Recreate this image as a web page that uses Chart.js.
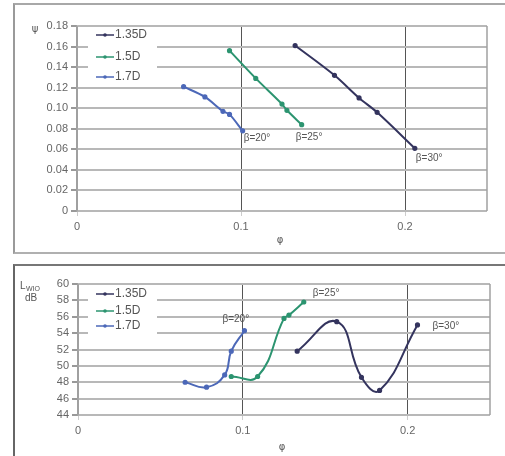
<!DOCTYPE html>
<html>
<head>
<meta charset="utf-8">
<script src="https://cdn.jsdelivr.net/npm/chart.js@4"></script>
<style>
  html, body { margin: 0; background: #fff; overflow: hidden; }
  body { width: 505px; height: 456px; position: relative; font-family: "Liberation Sans", Arial, sans-serif; }
  .panel { position: absolute; left: 13px; width: 490px; border-left: 2px solid #9a9a9a; border-right: 0; }
  #p1 { top: 3px; height: 247px; border-top: 2px solid #a8a8a8; border-bottom: 2px solid #b0b0b0; }
  #p2 { top: 264px; height: 192px; border-top: 2px solid #777; border-left-color: #666; }
  canvas { position: absolute; left: 0; }
  #top { top: 0; }
  #bottom { top: 258px; }
</style>
</head>
<body>
<div class="panel" id="p1"></div>
<div class="panel" id="p2"></div>
<canvas id="top" width="505" height="256"></canvas>
<canvas id="bottom" width="505" height="198"></canvas>
<script>
// series names and colours
let seriesNames = ['1.35D', '1.5D', '1.7D'];
let seriesColors = ['#34345e', '#2c9470', '#4c68b8'];

// phi (flow coefficient) for each series
let phi135 = [0.133, 0.157, 0.172, 0.183, 0.206];
let phi15 = [0.093, 0.109, 0.125, 0.128, 0.137];
let phi17 = [0.065, 0.078, 0.089, 0.093, 0.101];

// psi (pressure coefficient), top chart
let psi135 = [0.161, 0.132, 0.110, 0.096, 0.061];
let psi15 = [0.156, 0.129, 0.104, 0.098, 0.084];
let psi17 = [0.121, 0.111, 0.097, 0.094, 0.078];

// noise level dB, bottom chart
let L135 = [51.8, 55.4, 48.6, 47.0, 55.0];
let L15 = [48.7, 48.7, 55.8, 56.2, 57.8];
let L17 = [48.0, 47.4, 48.9, 51.8, 54.3];

// axis ticks
let xTicks = [0, 0.1, 0.2];
let betaLabels = ['β=30°', 'β=25°', 'β=20°'];

function pts(xs, ys) {
  return xs.map((x, i) => ({ x: x, y: ys[i] }));
}

function makeSets(ys, tension) {
  let xs = [phi135, phi15, phi17];
  return ys.map((y, i) => ({
    label: seriesNames[i],
    data: pts(xs[i], y),
    showLine: true,
    borderColor: seriesColors[i],
    backgroundColor: seriesColors[i],
    borderWidth: 2,
    pointRadius: 1.6,
    pointHoverRadius: 1.6,
    tension: tension
  }));
}

// draws frame, legend box, axis titles and beta labels
function extrasPlugin(cfg) {
  return {
    id: 'extras',
    beforeDatasetsDraw(chart) {
      let ctx = chart.ctx, ca = chart.chartArea;
      ctx.save();
      ctx.strokeStyle = '#a0a0a0';
      ctx.lineWidth = 1.5;
      ctx.beginPath();
      ctx.moveTo(ca.right, ca.top);
      ctx.lineTo(ca.right, ca.bottom);
      ctx.stroke();
      // legend
      let lg = cfg.legend;
      ctx.fillStyle = '#fff';
      ctx.fillRect(ca.left + lg.x, ca.top + lg.y, lg.w, lg.h);
      ctx.font = '12px "Liberation Sans", Arial';
      ctx.textBaseline = 'middle';
      seriesNames.forEach((n, i) => {
        let y = ca.top + lg.rows[i];
        let x0 = ca.left + lg.x + 8;
        ctx.strokeStyle = seriesColors[i];
        ctx.lineWidth = 1.5;
        ctx.beginPath();
        ctx.moveTo(x0, y);
        ctx.lineTo(x0 + 18, y);
        ctx.stroke();
        ctx.fillStyle = seriesColors[i];
        ctx.beginPath();
        ctx.arc(x0 + 9, y, 1.8, 0, Math.PI * 2);
        ctx.fill();
        ctx.fillStyle = '#555';
        ctx.fillText(n, x0 + 19, y);
      });
      ctx.restore();
    },
    afterDraw(chart) {
      let ctx = chart.ctx, ca = chart.chartArea;
      ctx.save();
      ctx.fillStyle = '#555';
      ctx.textBaseline = 'middle';
      ctx.textAlign = 'left';
      ctx.font = '10px "Liberation Sans", Arial';
      cfg.beta.forEach((b, i) => {
        let meta = chart.getDatasetMeta(i);
        let p = meta.data[meta.data.length - 1];
        ctx.fillText(betaLabels[i], p.x + b.dx, p.y + b.dy);
      });
      // x title
      ctx.textAlign = 'center';
      ctx.font = '10px "DejaVu Sans", sans-serif';
      ctx.fillText('φ', (ca.left + ca.right) / 2 - 2, ca.bottom + cfg.xTitleDy);
      // y title
      cfg.yTitle(ctx, ca);
      ctx.restore();
    }
  };
}

function scalesFor(ymin, ymax, ystep, yWidth, xHeight) {
  return {
    x: {
      type: 'linear', min: 0, max: 0.25,
      afterBuildTicks: s => { s.ticks = xTicks.map(v => ({ value: v })); },
      afterFit: s => { s.height = xHeight; },
      grid: { color: c => c.tick && c.tick.value === 0 ? '#a0a0a0' : '#555', lineWidth: 1, tickLength: 5, tickColor: '#ccc' },
      border: { display: false },
      ticks: { color: '#666', font: { size: 11, family: '"Liberation Sans", Arial' }, padding: 4, maxRotation: 0 }
    },
    y: {
      min: ymin, max: ymax,
      afterFit: s => { s.width = yWidth; },
      grid: { color: '#b8b8b8', lineWidth: 2, tickLength: 6, tickColor: '#999' },
      border: { display: true, color: '#a0a0a0', width: 1.5 },
      ticks: { stepSize: ystep, color: '#666', font: { size: 11, family: '"Liberation Sans", Arial' }, padding: 3 }
    }
  };
}

let common = {
  responsive: false,
  animation: false,
  devicePixelRatio: 1,
  plugins: { legend: { display: false }, tooltip: { enabled: false } }
};

new Chart(document.getElementById('top'), {
  type: 'scatter',
  data: { datasets: makeSets([psi135, psi15, psi17], 0.3) },
  options: Object.assign({}, common, {
    layout: { padding: { top: 26, right: 18, left: 0, bottom: 0 } },
    scales: scalesFor(0, 0.18, 0.02, 77, 45)
  }),
  plugins: [extrasPlugin({
    legend: { x: 11, y: 1, w: 69, h: 57, rows: [9, 31, 51] },
    beta: [{ dx: 1, dy: 10 }, { dx: -6, dy: 13 }, { dx: 1, dy: 7 }],
    xTitleDy: 29,
    yTitle: (ctx, ca) => {
      ctx.font = '10px "DejaVu Sans", sans-serif';
      ctx.fillText('ψ', ca.left - 42, ca.top + 3);
    }
  })]
});

new Chart(document.getElementById('bottom'), {
  type: 'scatter',
  data: { datasets: makeSets([L135, L15, L17], 0.45) },
  options: Object.assign({}, common, {
    layout: { padding: { top: 26, right: 15, left: 0, bottom: 0 } },
    scales: scalesFor(44, 60, 2, 78, 41)
  }),
  plugins: [extrasPlugin({
    legend: { x: 10, y: 3, w: 69, h: 52, rows: [10, 27, 42] },
    beta: [{ dx: 15, dy: 1 }, { dx: 9, dy: -9 }, { dx: -22, dy: -11 }],
    xTitleDy: 32,
    yTitle: (ctx, ca) => {
      ctx.textAlign = 'left';
      ctx.font = '10px "Liberation Sans", Arial';
      ctx.fillText('L', ca.left - 58, ca.top + 2);
      ctx.font = '7px "Liberation Sans", Arial';
      ctx.fillText('WIO', ca.left - 52, ca.top + 5);
      ctx.font = '10px "Liberation Sans", Arial';
      ctx.fillText('dB', ca.left - 53, ca.top + 14);
    }
  })]
});
</script>
</body>
</html>
